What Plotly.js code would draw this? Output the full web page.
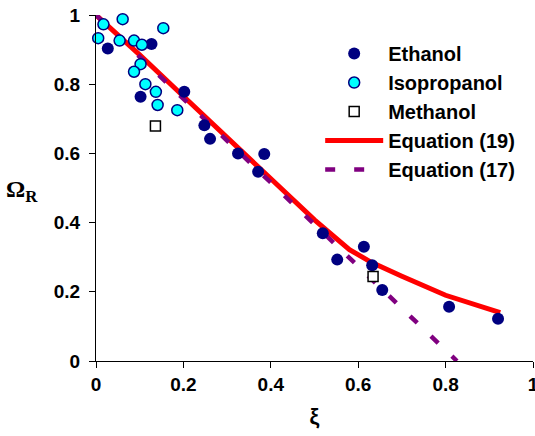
<!DOCTYPE html>
<html>
<head>
<meta charset="utf-8">
<script src="https://cdn.plot.ly/plotly-3.0.1.min.js"></script>
<style>html,body{margin:0;padding:0;background:#fff;}#chart{width:535px;height:436px;}</style>
</head>
<body>
<div id="chart"></div>
<script>
// Ethanol data
const ethanolXi    = [0.027, 0.127, 0.202, 0.102, 0.248, 0.261, 0.325, 0.385, 0.371, 0.519, 0.552, 0.613, 0.632, 0.655, 0.808, 0.920];
const ethanolOmega = [0.903, 0.916, 0.778, 0.764, 0.681, 0.642, 0.600, 0.598, 0.547, 0.369, 0.293, 0.330, 0.277, 0.205, 0.157, 0.122];
// Isopropanol data
const isoXi    = [0.005, 0.017, 0.061, 0.054, 0.087, 0.105, 0.154, 0.102, 0.087, 0.113, 0.137, 0.141, 0.186];
const isoOmega = [0.933, 0.973, 0.988, 0.926, 0.926, 0.914, 0.962, 0.858, 0.836, 0.800, 0.778, 0.740, 0.725];
// Methanol data
const methXi    = [0.136, 0.634];
const methOmega = [0.679, 0.244];
// Equation (19) curve
const eq19Xi    = [0, 0.1, 0.2, 0.3, 0.4, 0.5, 0.58, 0.63, 0.7, 0.8, 0.925];
const eq19Omega = [1, 0.885, 0.765, 0.645, 0.525, 0.408, 0.322, 0.285, 0.245, 0.19, 0.14];
// Equation (17) line
const eq17Xi    = [0, 0.826];
const eq17Omega = [1, 0];

const tickVals = [0, 0.2, 0.4, 0.6, 0.8, 1];
const tickText = ['0', '0.2', '0.4', '0.6', '0.8', '1'];

const traces = [
  {x: eq19Xi, y: eq19Omega, mode: 'lines', name: 'Equation (19)', legendrank: 4,
   line: {color: '#ff0000', width: 5}},
  {x: eq17Xi, y: eq17Omega, mode: 'lines', name: 'Equation (17)', legendrank: 5,
   line: {color: '#800080', width: 4.5, dash: '10px,19px'}},
  {x: ethanolXi, y: ethanolOmega, mode: 'markers', name: 'Ethanol', legendrank: 1,
   marker: {symbol: 'circle', size: 12, color: '#000080', line: {width: 0}}},
  {x: isoXi, y: isoOmega, mode: 'markers', name: 'Isopropanol', legendrank: 2,
   marker: {symbol: 'circle', size: 11, color: '#00ffff', line: {width: 1.5, color: '#000080'}}},
  {x: methXi, y: methOmega, mode: 'markers', name: 'Methanol', legendrank: 3,
   marker: {symbol: 'square', size: 10, color: '#ffffff', line: {width: 1.5, color: '#000000'}}}
];

const axisCommon = {
  range: [0, 1], showgrid: false, zeroline: false, showline: true, linecolor: '#000', linewidth: 1,
  ticks: 'outside', ticklen: 6, tickcolor: '#000', tickwidth: 1,
  tickvals: tickVals, ticktext: tickText, ticklabeloverflow: 'allow',
  tickfont: {family: 'Arial, "Liberation Sans", sans-serif', size: 19, color: '#000', weight: 'bold'},
  fixedrange: true
};

const layout = {
  width: 535, height: 436,
  margin: {l: 96, r: 2, t: 15, b: 75},
  paper_bgcolor: '#fff', plot_bgcolor: '#fff',
  showlegend: true,
  xaxis: Object.assign({}, axisCommon, {
    title: {text: '<b>ξ</b>', font: {family: 'Arial, "Liberation Sans", sans-serif', size: 22, color: '#000'}, standoff: 14}
  }),
  yaxis: Object.assign({}, axisCommon, {ticklabelstandoff: 5}),
  legend: {
    x: 0.513, y: 0.945, xanchor: 'left', yanchor: 'top',
    bgcolor: 'rgba(0,0,0,0)', borderwidth: 0, itemwidth: 58,
    font: {family: 'Arial, "Liberation Sans", sans-serif', size: 20, color: '#000', weight: 'bold'},
    traceorder: 'normal'
  },
  annotations: [
    {text: '<b>Ω<sub>R</sub></b>', xref: 'paper', yref: 'paper', x: -0.21, y: 0.49,
     xanchor: 'left', yanchor: 'middle', showarrow: false,
     font: {family: '"Liberation Serif", "Times New Roman", serif', size: 24, color: '#000'}}
  ]
};

traces.forEach(t => { t.cliponaxis = false; });
Plotly.newPlot('chart', traces, layout, {displayModeBar: false, staticPlot: true});
</script>
</body>
</html>
